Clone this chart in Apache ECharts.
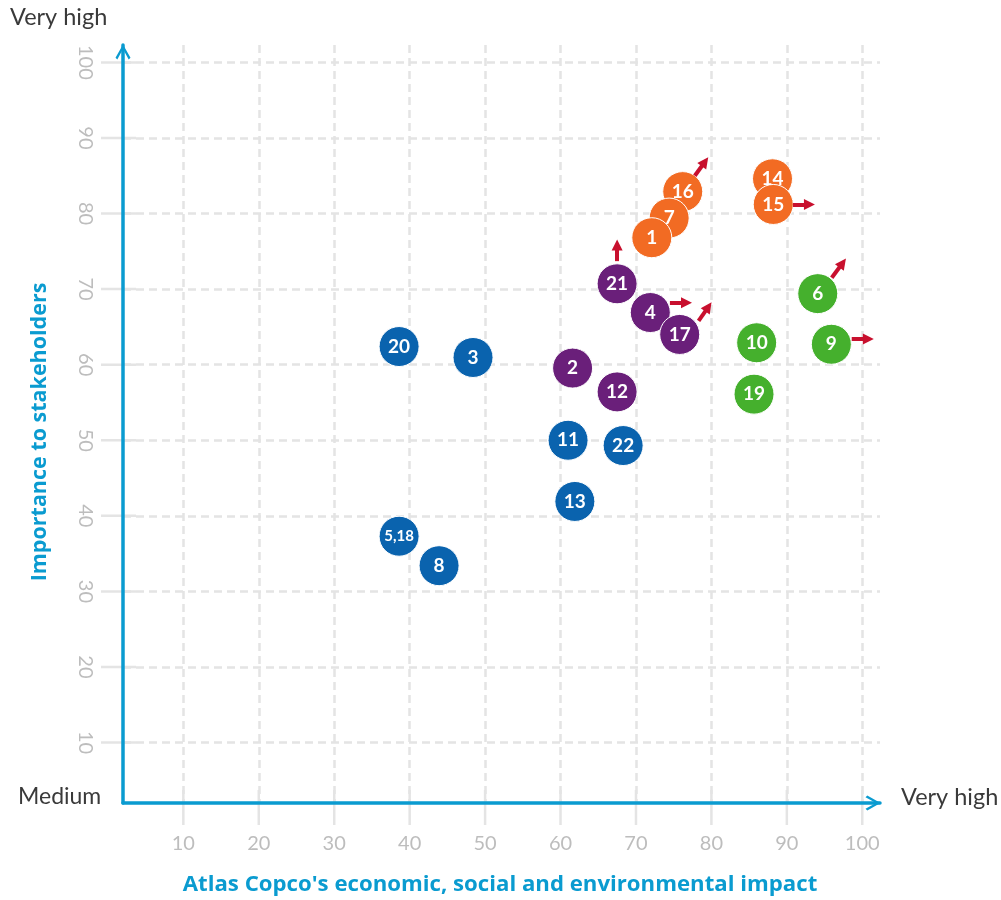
<!DOCTYPE html>
<html>
<head>
<meta charset="utf-8">
<script src="https://cdn.jsdelivr.net/npm/echarts@6/dist/echarts.min.js"></script>
<style>
html,body{margin:0;padding:0;background:#fff;}
#chart{width:1001px;height:900px;}
</style>
</head>
<body>
<div id="chart"></div>
<script>
// ---- data ----
const tickValues = [10, 20, 30, 40, 50, 60, 70, 80, 90, 100];

const blueNames = ['20', '3', '11', '22', '13', '5,18', '8'];
const blueX = [38.6, 48.4, 61.0, 68.3, 61.9, 38.6, 43.9];
const blueY = [62.4, 60.95, 50.0, 49.3, 41.9, 37.3, 33.4];

const purpleNames = ['21', '4', '17', '2', '12'];
const purpleX = [67.5, 71.9, 75.8, 61.6, 67.5];
const purpleY = [70.7, 66.9, 64.0, 59.55, 56.4];

const orangeNames = ['16', '7', '1', '14', '15'];
const orangeX = [76.2, 74.4, 72.1, 88.1, 88.2];
const orangeY = [82.9, 79.4, 76.8, 84.6, 81.2];

const greenNames = ['6', '9', '10', '19'];
const greenX = [94.1, 95.9, 86.0, 85.65];
const greenY = [69.4, 62.7, 62.9, 56.1];

// arrows (trend indicators): from -> arrowhead centre, in data units
const arrowFrom = [[77.8, 85.0], [90.8, 81.2], [67.5, 73.7], [74.5, 68.2], [78.3, 65.8], [95.95, 71.5], [98.6, 63.4]];
const arrowTo   = [[79.15, 86.85], [93.0, 81.2], [67.5, 75.85], [76.7, 68.2], [79.6, 67.65], [97.4, 73.45], [100.8, 63.4]];

// ---- chart ----
const FONT = 'Lato, "Noto Sans", sans-serif';
const NAME_FONT = '"Open Sans", "Noto Sans", sans-serif';
const AXIS_BLUE = '#0a9bd0';
const GRID_GREY = '#e4e4e4';
const MIN = 2, XMAX = 102.35, YMAX = 102.3;

function pts(names, xs, ys) {
  return names.map((n, i) => ({ name: n, value: [xs[i], ys[i]] }));
}

function bubble(name, color, data) {
  return {
    name: name,
    type: 'scatter',
    symbolSize: 40,
    data: data,
    itemStyle: { color: color, borderColor: '#ffffff', borderWidth: 1, opacity: 1 },
    label: {
      show: true, position: 'inside', color: '#ffffff',
      fontFamily: FONT, fontWeight: 'bold',
      formatter: p => p.name,
      fontSize: 19
    },
    emphasis: { disabled: true },
    z: 3
  };
}

const chart = echarts.init(document.getElementById('chart'), null, { renderer: 'canvas' });

const chevron = 'path://M0 88 L50 0 L100 88 L88 100 L50 30 L12 100 Z';

function mainAxis(max, extraLabel) {
  return {
    type: 'value', min: MIN, max: max, minInterval: 10, maxInterval: 10,
    axisLine: { show: true, symbol: ['none', chevron], symbolSize: [26, 15], symbolOffset: [0, -7],
      lineStyle: { color: AXIS_BLUE, width: 3.5 } },
    axisTick: { show: true, length: 0, customValues: tickValues, lineStyle: { color: GRID_GREY, width: 0 } },
    axisLabel: Object.assign({ show: true, customValues: tickValues,
      color: '#bdbdbd', fontSize: 20, fontFamily: FONT }, extraLabel),
    splitLine: { show: true, lineStyle: { color: GRID_GREY, width: 2.5, type: [8, 5] } },
    z: 3
  };
}

const option = {
  backgroundColor: '#ffffff',
  animation: false,
  textStyle: { fontFamily: FONT },
  grid: { left: 123, right: 121, top: 45, bottom: 97, containLabel: false },
  xAxis: mainAxis(XMAX, { margin: 31 }),
  yAxis: mainAxis(YMAX, { rotate: -90, margin: 28 }),
  graphic: [
    { type: 'text', left: 10, top: 5, style: { text: 'Very high', fontSize: 23.5, fontFamily: FONT, fill: '#3a3a3a' } },
    { type: 'text', left: 18, top: 785, style: { text: 'Medium', fontSize: 23, fontFamily: FONT, fill: '#3a3a3a' } },
    { type: 'text', left: 901, top: 785, style: { text: 'Very high', fontSize: 23.5, fontFamily: FONT, fill: '#3a3a3a' } },
    { type: 'text', x: 500, y: 885, style: { text: "Atlas Copco's economic, social and environmental impact",
        fontSize: 22.2, fontWeight: 'bold', fontFamily: NAME_FONT, fill: AXIS_BLUE, align: 'center', verticalAlign: 'middle' } },
    { type: 'text', x: 40, y: 432, rotation: Math.PI / 2, style: { text: 'Importance to stakeholders',
        fontSize: 21.5, fontWeight: 'bold', fontFamily: NAME_FONT, fill: AXIS_BLUE, align: 'center', verticalAlign: 'middle' } }
  ],
  series: [
    {
      // tick marks crossing both axes, positioned through the axes' scales
      type: 'custom',
      silent: true,
      clip: false,
      z: 1,
      data: tickValues.map(v => [v, v]),
      encode: { x: 0, y: 1 },
      renderItem: function (params, api) {
        const v = api.value(0);
        const px = api.coord([v, MIN]);
        const py = api.coord([MIN, v]);
        const st = { stroke: GRID_GREY, lineWidth: 2.5 };
        return {
          type: 'group',
          children: [
            { type: 'line', shape: { x1: px[0], y1: px[1] - 13, x2: px[0], y2: px[1] + 22 }, style: st },
            { type: 'line', shape: { x1: py[0] - 22, y1: py[1], x2: py[0] + 13, y2: py[1] }, style: st }
          ]
        };
      }
    },
    {
      type: 'lines',
      coordinateSystem: 'cartesian2d',
      symbol: ['none', 'triangle'],
      symbolSize: [13, 11],
      lineStyle: { color: '#c8102e', width: 4, opacity: 1, curveness: 0 },
      data: arrowFrom.map((f, i) => ({ coords: [f, arrowTo[i]] })),
      silent: true,
      z: 4
    },
    bubble('Blue', '#0a63ae', pts(blueNames, blueX, blueY)),
    bubble('Purple', '#6a1f7a', pts(purpleNames, purpleX, purpleY)),
    bubble('Orange', '#f26b23', pts(orangeNames, orangeX, orangeY)),
    bubble('Green', '#45b02d', pts(greenNames, greenX, greenY))
  ]
};

// smaller label for the combined bubble
option.series[2].data.forEach(d => {
  if (d.name.indexOf(',') >= 0) d.label = { fontSize: 15 };
});

chart.setOption(option);
</script>
</body>
</html>
